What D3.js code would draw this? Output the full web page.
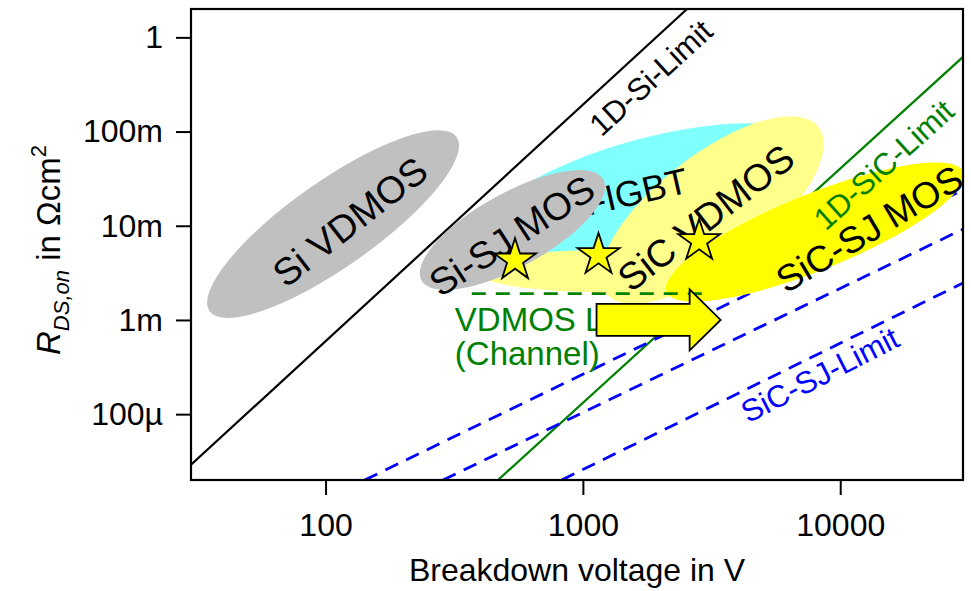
<!DOCTYPE html>
<html>
<head>
<meta charset="utf-8">
<script src="https://cdn.jsdelivr.net/npm/d3@7"></script>
<style>
  html, body { margin: 0; padding: 0; background: #fff; }
  svg { display: block; font-family: "Liberation Sans", Arial, sans-serif; }
</style>
</head>
<body>
<svg id="chart"></svg>
<script>
// axes
var xDomain = [30, 30000];
var yDomain = [2e-5, 2];
var xTicks = [100, 1000, 10000];
var yTicks = [1e-4, 1e-3, 1e-2, 1e-1, 1];
var yTickLabels = ["100µ", "1m", "10m", "100m", "1"];

// limit lines, [V, R]
var siLimit = [[30, 2.9e-5], [2540, 2]];
var sicLimit = [[468, 2e-5], [30000, 0.62]];
var sicSjLimits = [
  [[142, 2e-5], [30000, 0.024]],
  [[286, 2e-5], [30000, 9.2e-3]],
  [[827, 2e-5], [30000, 2.47e-3]]
];
var vdmosLimit = [[370, 1.9e-3], [2930, 1.9e-3]];

// device regions, ends of the long axis [V, R]
var siVdmos = [[35.4, 1.24e-3], [323, 0.0875]];
var siSjMos = [[236, 2.63e-3], [1201, 0.0309]];
var siIgbt = [[419, 8.2e-3], [7920, 0.070]];
var sicLow = [[381, 3.3e-3], [3570, 3.3e-3]];
var sicVdmos = [[1226, 1.93e-3], [8230, 0.112]];
var sicSjMos = [[2115, 1.98e-3], [30100, 0.0372]];

// devices (stars) and the shift arrow
var devices = [[545, 4.3e-3], [1150, 4.9e-3], [2830, 6.9e-3]];
var shift = [[1130, 1e-3], [3430, 1e-3]];

// labels [text, V, R]
var regionLabels = [
  ["Si VDMOS", 124.5, 0.011],
  ["Si-SJ MOS", 530, 7.8e-3],
  ["SiC VDMOS", 3009, 0.0121],
  ["SiC-SJ MOS", 13000, 9.2e-3]
];
var igbtLabel = ["Si-IGBT", 2608, 0.0228];
var limitLabels = [
  ["1D-Si-Limit", 1839, 0.37],
  ["1D-SiC-Limit", 14790, 0.0442],
  ["SiC-SJ-Limit", 8344, 2.6e-4]
];
var channelLabels = [["VDMOS Limit", 318, 7.6e-4], ["(Channel)", 318, 3.3e-4]];

var width = 971, height = 591;
var svg = d3.select("#chart").attr("width", width).attr("height", height);

var x = d3.scaleLog().domain(xDomain).range([191, 963]);
var y = d3.scaleLog().domain(yDomain).range([480, 9]);

svg.append("defs").append("clipPath").attr("id", "plot")
  .append("rect").attr("x", 191).attr("y", 9).attr("width", 772).attr("height", 471);

function layer() { return svg.append("g").attr("clip-path", "url(#plot)"); }
var line = d3.line().x(function (d) { return x(d[0]) }).y(function (d) { return y(d[1]) });

// limit lines
var gLines = layer();
gLines.append("path").attr("d", line(siLimit)).attr("fill", "none")
  .attr("stroke", "#000").attr("stroke-width", 2.2);
gLines.append("path").attr("d", line(sicLimit)).attr("fill", "none")
  .attr("stroke", "#008000").attr("stroke-width", 2.2);
gLines.selectAll(".sj").data(sicSjLimits).enter().append("path")
  .attr("d", line).attr("fill", "none")
  .attr("stroke", "#0000ff").attr("stroke-width", 2.8)
  .attr("stroke-dasharray", "14,9");

function ellipse(g, ends, half, fill) {
  var x1 = x(ends[0][0]), y1 = y(ends[0][1]);
  var x2 = x(ends[1][0]), y2 = y(ends[1][1]);
  var cx = (x1 + x2) / 2, cy = (y1 + y2) / 2;
  var ang = Math.atan2(y2 - y1, x2 - x1) * 180 / Math.PI;
  g.append("ellipse")
    .attr("cx", cx).attr("cy", cy)
    .attr("rx", Math.hypot(x2 - x1, y2 - y1) / 2).attr("ry", half)
    .attr("transform", "rotate(" + ang + "," + cx + "," + cy + ")")
    .attr("fill", fill);
}

function label(g, d, size, color, rot, anchor) {
  g.append("text")
    .attr("transform", "translate(" + x(d[1]) + "," + y(d[2]) + ") rotate(" + rot + ")")
    .attr("text-anchor", anchor || "middle")
    .attr("dominant-baseline", anchor ? "auto" : "central")
    .attr("font-size", size).attr("fill", color)
    .text(d[0]);
}

var gBack = layer();
ellipse(gBack, siIgbt, 52, "#80ffff");
ellipse(gBack, sicLow, 21, "#ffff8c");
ellipse(gBack, sicVdmos, 55, "#ffff8c");
ellipse(gBack, sicSjMos, 38, "#ffff00");
label(gBack, igbtLabel, 36, "#000", -13, "end");
var gGray = layer();
ellipse(gGray, siVdmos, 43, "#c0c0c0");
ellipse(gGray, siSjMos, 37, "#c0c0c0");

// VDMOS channel limit
svg.append("path").attr("d", line(vdmosLimit)).attr("fill", "none")
  .attr("stroke", "#008000").attr("stroke-width", 2.8)
  .attr("stroke-dasharray", "14,10");
channelLabels.forEach(function (d) {
  svg.append("text").attr("x", x(d[1])).attr("y", y(d[2]))
    .attr("font-size", 33).attr("fill", "#008000").text(d[0]);
});

// arrow
var ax0 = x(shift[0][0]), ax1 = x(shift[1][0]), ay = y(shift[0][1]);
svg.append("path")
  .attr("d", "M" + ax0 + "," + (ay - 16) + "H" + (ax1 - 31) + "V" + (ay - 30.5) +
    "L" + ax1 + "," + ay + "L" + (ax1 - 31) + "," + (ay + 30.5) + "V" + (ay + 16) +
    "H" + ax0 + "Z")
  .attr("fill", "#ffff00").attr("stroke", "#000").attr("stroke-width", 1.8);

// labels
var regionRot = [-38, -33, -38, -31];
regionLabels.forEach(function (d, i) { label(svg, d, i == 3 ? 37 : 38, "#000", regionRot[i]); });
label(svg, limitLabels[0], 31, "#000", -42.5);
label(svg, limitLabels[1], 31, "#008000", -42);
label(svg, limitLabels[2], 31, "#0000ff", -27);

// stars
svg.selectAll(".star").data(devices).enter().append("path")
  .attr("d", d3.symbol(d3.symbolStar, 22 * 22 / 0.8908130915292852))
  .attr("transform", function (d) { return "translate(" + x(d[0]) + "," + y(d[1]) + ")" })
  .attr("fill", "#ffff00").attr("stroke", "#000").attr("stroke-width", 1.8);

// frame and axes
svg.append("rect").attr("x", 191).attr("y", 9).attr("width", 772).attr("height", 471)
  .attr("fill", "none").attr("stroke", "#000").attr("stroke-width", 2.2);

function minors(dom) {
  var out = [];
  for (var e = -6; e <= 5; e++) for (var m = 2; m <= 9; m++) {
    var v = m * Math.pow(10, e);
    if (v >= dom[0] * 0.999 && v <= dom[1] * 1.001) out.push(v);
  }
  return out;
}

var gx = svg.append("g").attr("transform", "translate(0,480)");
gx.call(d3.axisBottom(x).tickValues(minors(xDomain)).tickSize(8).tickFormat(""));
gx.call(d3.axisBottom(x).tickValues(xTicks).tickSize(15).tickPadding(18).tickFormat(d3.format("d")));
var gy = svg.append("g").attr("transform", "translate(191,0)");
gy.call(d3.axisLeft(y).tickValues(minors(yDomain)).tickSize(8).tickFormat(""));
gy.call(d3.axisLeft(y).tickValues(yTicks).tickSize(15).tickPadding(13)
  .tickFormat(function (d, i) { return yTickLabels[i] }));
svg.selectAll(".domain").remove();
svg.selectAll(".tick line").attr("stroke", "#000").attr("stroke-width", 2);
svg.selectAll(".tick text").attr("font-size", 32).attr("font-family", "Liberation Sans, Arial, sans-serif").attr("fill", "#000");

svg.append("text").attr("x", 577).attr("y", 581).attr("text-anchor", "middle")
  .attr("font-size", 32).text("Breakdown voltage in V");

var yt = svg.append("text").attr("transform", "translate(60,250) rotate(-90)")
  .attr("text-anchor", "middle").attr("font-size", 33);
yt.append("tspan").attr("font-style", "italic").text("R");
yt.append("tspan").attr("font-style", "italic").attr("font-size", 22).attr("dy", 9).text("DS,on");
yt.append("tspan").attr("dy", -9).text(" in Ωcm");
yt.append("tspan").attr("font-size", 22).attr("dy", -14).text("2");
</script>
</body>
</html>
